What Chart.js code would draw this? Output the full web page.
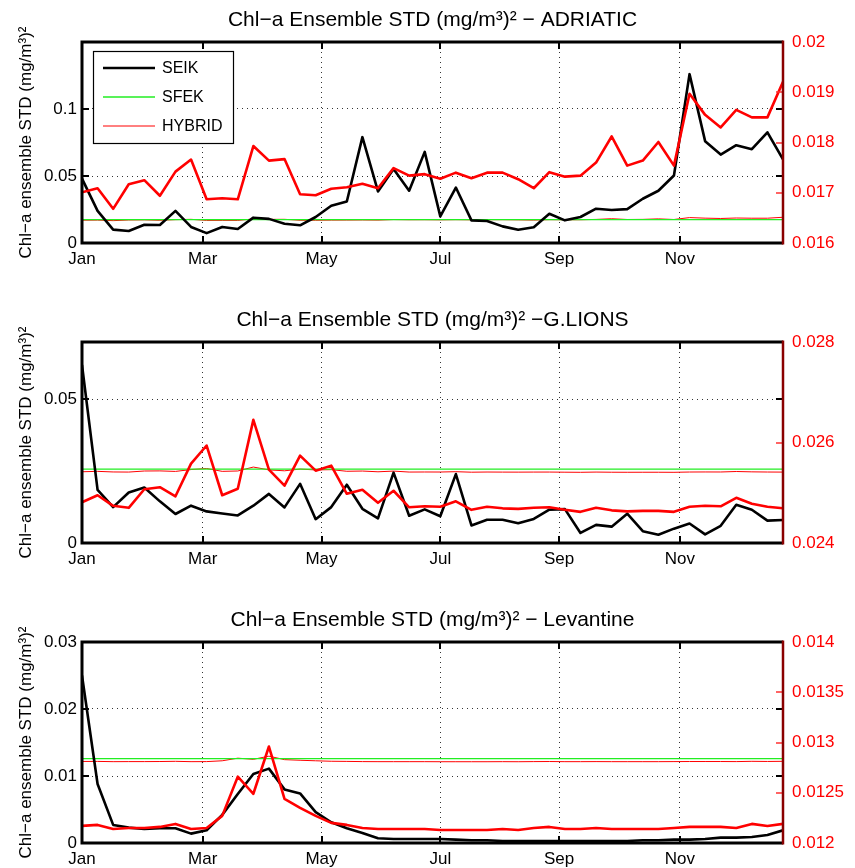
<!DOCTYPE html>
<html><head><meta charset="utf-8">
<script src="https://cdn.jsdelivr.net/npm/chart.js@4.4.1/dist/chart.umd.min.js"></script>
<style>
html,body{margin:0;padding:0;background:#fff;}
#wrap{position:relative;width:855px;height:868px;overflow:hidden;background:#fff;}
.panel{position:absolute;left:0;width:855px;height:268px;}
</style></head><body>
<div id="wrap">
<div class="panel" style="top:0px"><canvas id="c1" width="855" height="268"></canvas></div>
<div class="panel" style="top:300px"><canvas id="c2" width="855" height="268"></canvas></div>
<div class="panel" style="top:600px"><canvas id="c3" width="855" height="268"></canvas></div>
</div>
<script>
// ---------- data ----------
const days = [1,9,17,25,33,41,49,57,65,73,81,89,97,105,113,121,129,137,145,153,161,169,177,185,193,201,209,217,225,233,241,249,257,265,273,281,289,297,305,313,321,329,337,345,353,361];
const monthTickDays = [1, 63, 124, 185, 246, 308];
const monthLabels = ['Jan', 'Mar', 'May', 'Jul', 'Sep', 'Nov'];
const seriesNames = ['SEIK', 'SFEK', 'HYBRID'];
const yAxisLabel = 'Chl−a ensemble STD (mg/m³)²';

const adriaticTitle = 'Chl−a Ensemble STD (mg/m³)² − ADRIATIC';
const adriaticSEIK = [0.048,0.024,0.010,0.009,0.0136,0.0134,0.024,0.012,0.0074,0.012,0.0104,0.0189,0.018,0.0144,0.0132,0.0194,0.0278,0.031,0.079,0.0385,0.0553,0.039,0.068,0.0199,0.0414,0.0169,0.0164,0.0124,0.0099,0.0117,0.0218,0.0169,0.0194,0.0256,0.0246,0.0253,0.033,0.039,0.0504,0.126,0.076,0.066,0.073,0.070,0.0826,0.0625];
const adriaticSFEK = [0.0174,0.0174,0.0174,0.0174,0.0174,0.0174,0.0174,0.0174,0.0174,0.0174,0.0174,0.0174,0.0174,0.0174,0.0174,0.0174,0.0174,0.0174,0.0174,0.0174,0.0174,0.0174,0.0174,0.0174,0.0174,0.0174,0.0174,0.0174,0.0174,0.0174,0.0174,0.0174,0.0174,0.0174,0.0174,0.0174,0.0174,0.0174,0.0174,0.0174,0.0174,0.0174,0.0174,0.0174,0.0174,0.0174];
const adriaticHYBRID = [0.01701,0.01709,0.01668,0.01717,0.01725,0.01694,0.01742,0.01766,0.01687,0.01689,0.01687,0.01793,0.01764,0.01767,0.01697,0.01695,0.01708,0.01711,0.01718,0.01709,0.01749,0.01734,0.01737,0.01728,0.01740,0.01729,0.01740,0.01740,0.01727,0.01709,0.01741,0.01732,0.01734,0.0176,0.01812,0.01754,0.01764,0.01801,0.01754,0.01897,0.01855,0.0183,0.01865,0.0185,0.0185,0.01921];
const adriaticLeftRange = [0, 0.15];
const adriaticLeftTicks = [0, 0.05, 0.1];
const adriaticRightRange = [0.016, 0.02];
const adriaticRightTicks = [0.016, 0.017, 0.018, 0.019, 0.02];

const gLionsTitle = 'Chl−a Ensemble STD (mg/m³)² −G.LIONS';
const gLionsSEIK = [0.062,0.0185,0.0125,0.0176,0.0193,0.0145,0.0101,0.0130,0.0110,0.0103,0.0096,0.0130,0.0171,0.0124,0.0206,0.0083,0.0125,0.0203,0.0119,0.0086,0.0245,0.0095,0.0117,0.0093,0.0240,0.0061,0.0081,0.0081,0.0069,0.0084,0.0116,0.0118,0.0035,0.0063,0.0057,0.0102,0.0041,0.0029,0.0050,0.0068,0.0030,0.0060,0.0133,0.0116,0.0078,0.0080];
const gLionsSFEK = [0.0257,0.0257,0.0257,0.0257,0.0257,0.0257,0.0257,0.0257,0.0257,0.0257,0.0257,0.0257,0.0257,0.0257,0.0257,0.0257,0.0257,0.0257,0.0257,0.0257,0.0257,0.0257,0.0257,0.0257,0.0257,0.0257,0.0257,0.0257,0.0257,0.0257,0.0257,0.0257,0.0257,0.0257,0.0257,0.0257,0.0257,0.0257,0.0257,0.0257,0.0257,0.0257,0.0257,0.0257,0.0257,0.0257];
const gLionsHYBRID = [0.02481,0.02495,0.02474,0.0247,0.02507,0.02511,0.02493,0.02558,0.02594,0.02495,0.02508,0.02645,0.02546,0.02514,0.02574,0.02544,0.02554,0.02498,0.02506,0.0248,0.02504,0.02471,0.02473,0.02472,0.02483,0.02466,0.02472,0.02469,0.02468,0.0247,0.02471,0.02466,0.02462,0.0247,0.02465,0.02463,0.02464,0.02464,0.02462,0.02472,0.02474,0.02473,0.0249,0.02478,0.02472,0.02469];
const gLionsLeftRange = [0, 0.07];
const gLionsLeftTicks = [0, 0.05];
const gLionsRightRange = [0.024, 0.028];
const gLionsRightTicks = [0.024, 0.026, 0.028];

const levantineTitle = 'Chl−a Ensemble STD (mg/m³)² − Levantine';
const levantineSEIK = [0.0250,0.0088,0.0027,0.0023,0.0021,0.0022,0.0022,0.0014,0.0019,0.0042,0.0073,0.0103,0.0111,0.0080,0.0074,0.0046,0.0031,0.0022,0.0015,0.0007,0.0006,0.0006,0.0006,0.0006,0.0005,0.0004,0.0004,0.0003,0.0003,0.0003,0.0003,0.0003,0.0003,0.0003,0.0003,0.0003,0.0004,0.0004,0.0005,0.0005,0.0006,0.0008,0.0008,0.0009,0.0012,0.0019];
const levantineSFEK = [0.01258,0.01258,0.01258,0.01258,0.01258,0.01258,0.01258,0.01258,0.01258,0.01258,0.01258,0.01258,0.01258,0.01258,0.01258,0.01258,0.01258,0.01258,0.01258,0.01258,0.01258,0.01258,0.01258,0.01258,0.01258,0.01258,0.01258,0.01258,0.01258,0.01258,0.01258,0.01258,0.01258,0.01258,0.01258,0.01258,0.01258,0.01258,0.01258,0.01258,0.01258,0.01258,0.01258,0.01258,0.01258,0.01258];
const levantineHYBRID = [0.01217,0.01218,0.01214,0.01215,0.01215,0.01216,0.01219,0.01214,0.01215,0.01227,0.01266,0.01249,0.01296,0.01244,0.01235,0.01227,0.0122,0.01218,0.01215,0.01214,0.01214,0.01214,0.01214,0.01213,0.01213,0.01213,0.01213,0.01214,0.01213,0.01215,0.01216,0.01214,0.01214,0.01215,0.01214,0.01214,0.01214,0.01214,0.01215,0.01216,0.01216,0.01216,0.01215,0.01219,0.01217,0.01219];
const levantineLeftRange = [0, 0.03];
const levantineLeftTicks = [0, 0.01, 0.02, 0.03];
const levantineRightRange = [0.012, 0.014];
const levantineRightTicks = [0.012, 0.0125, 0.013, 0.0135, 0.014];

// ---------- drawing ----------
const FONT = "'Liberation Sans', Arial, Helvetica, sans-serif";
const fmt = v => String(Number(Number(v).toPrecision(6)));
const pts = arr => days.map((d, i) => ({x: d, y: arr[i]}));

const frame = {
  id: 'matlabFrame',
  afterDatasetsDraw(chart) {
    const {ctx, chartArea: a, scales} = chart;
    const tl = 7;
    ctx.save();
    ctx.lineCap = 'butt';
    ctx.strokeStyle = '#000';
    ctx.lineWidth = 2;
    scales.x.ticks.forEach(t => {
      const px = Math.round(scales.x.getPixelForValue(t.value));
      ctx.beginPath();
      ctx.moveTo(px, a.bottom); ctx.lineTo(px, a.bottom - tl);
      ctx.moveTo(px, a.top); ctx.lineTo(px, a.top + tl);
      ctx.stroke();
    });
    scales.y.ticks.forEach(t => {
      const py = Math.round(scales.y.getPixelForValue(t.value));
      ctx.beginPath();
      ctx.moveTo(a.left, py); ctx.lineTo(a.left + tl, py);
      ctx.moveTo(a.right, py); ctx.lineTo(a.right - tl, py);
      ctx.stroke();
    });
    ctx.strokeStyle = '#ff3030';
    ctx.lineWidth = 1.5;
    scales.y2.ticks.forEach(t => {
      const py = Math.round(scales.y2.getPixelForValue(t.value));
      ctx.beginPath();
      ctx.moveTo(a.right, py); ctx.lineTo(a.right - tl, py);
      ctx.stroke();
    });
    ctx.strokeStyle = '#000';
    ctx.lineWidth = 3;
    ctx.beginPath();
    ctx.moveTo(a.right, a.top); ctx.lineTo(a.left, a.top);
    ctx.lineTo(a.left, a.bottom); ctx.lineTo(a.right, a.bottom);
    ctx.stroke();
    ctx.strokeStyle = '#8a0000';
    ctx.lineWidth = 2.5;
    ctx.beginPath();
    ctx.moveTo(a.right, a.top - 1.5); ctx.lineTo(a.right, a.bottom + 1.5);
    ctx.stroke();
    ctx.restore();
  },
  afterDraw(chart, args, opts) {
    if (!opts || !opts.legend) return;
    const {ctx} = chart;
    const bx = 93, by = 51, bw = 140, bh = 92;
    ctx.save();
    ctx.fillStyle = '#fff';
    ctx.fillRect(bx, by, bw, bh);
    ctx.strokeStyle = '#000';
    ctx.lineWidth = 1.2;
    ctx.strokeRect(bx + 0.5, by + 0.5, bw, bh);
    const items = chart.data.datasets.filter(d => d.inLegend);
    ctx.font = '16px ' + FONT;
    ctx.textBaseline = 'middle';
    ctx.textAlign = 'left';
    items.forEach((d, i) => {
      const y = 68 + i * 29;
      ctx.strokeStyle = d.borderColor;
      ctx.lineWidth = d.borderWidth;
      ctx.beginPath();
      ctx.moveTo(103, y); ctx.lineTo(155, y);
      ctx.stroke();
      ctx.fillStyle = '#000';
      ctx.fillText(d.label, 162, y + 1);
    });
    ctx.restore();
  }
};

function makeChart(id, title, seik, sfek, hybrid, lRange, lTicks, rRange, rTicks, showLegend) {
  return new Chart(document.getElementById(id), {
    type: 'line',
    data: {
      datasets: [
        {label: seriesNames[2] + ' ', data: pts(hybrid), yAxisID: 'y2', borderColor: '#ff0000', borderWidth: 2.6, order: 0, inLegend: false},
        {label: seriesNames[0], data: pts(seik), yAxisID: 'y', borderColor: '#000000', borderWidth: 2.6, order: 1, inLegend: true},
        {label: seriesNames[1], data: pts(sfek), yAxisID: 'y', borderColor: '#22ee22', borderWidth: 1.3, order: 2, inLegend: true},
        {label: seriesNames[2], data: pts(hybrid), yAxisID: 'y', borderColor: '#ff0000', borderWidth: 1, order: 3, inLegend: true}
      ]
    },
    options: {
      responsive: false,
      animation: false,
      events: [],
      devicePixelRatio: 1,
      layout: {padding: {left: 10, right: 0, top: 0, bottom: 0}},
      elements: {
        point: {radius: 0},
        line: {tension: 0, fill: false, borderJoinStyle: 'round', borderCapStyle: 'butt'}
      },
      plugins: {
        legend: {display: false},
        tooltip: {enabled: false},
        title: {
          display: true, text: title, color: '#000',
          font: {family: FONT, size: 21, weight: 'normal', lineHeight: 1.2},
          padding: {top: 8, bottom: 8.8}
        },
        matlabFrame: {legend: showLegend}
      },
      scales: {
        x: {
          type: 'linear', position: 'bottom', min: days[0], max: days[days.length - 1],
          afterBuildTicks: s => { s.ticks = monthTickDays.map(v => ({value: v})); },
          afterFit: s => { s.height = 25; },
          ticks: {
            autoSkip: false, maxRotation: 0, minRotation: 0, padding: 6, color: '#000',
            font: {family: FONT, size: 17},
            callback: (v, i) => monthLabels[i]
          },
          grid: {color: '#333', lineWidth: 1, drawTicks: false},
          border: {display: false, dash: [1, 4]}
        },
        y: {
          type: 'linear', position: 'left', min: lRange[0], max: lRange[1],
          afterBuildTicks: s => { s.ticks = lTicks.map(v => ({value: v})); },
          afterFit: s => { s.width = 72; },
          ticks: {padding: 5, color: '#000', font: {family: FONT, size: 17}, callback: v => fmt(v)},
          grid: {color: '#333', lineWidth: 1, drawTicks: false},
          border: {display: false, dash: [1, 4]},
          title: {display: true, text: yAxisLabel, color: '#000', font: {family: FONT, size: 17}, padding: {top: 6, bottom: 0}}
        },
        y2: {
          type: 'linear', position: 'right', min: rRange[0], max: rRange[1],
          afterBuildTicks: s => { s.ticks = rTicks.map(v => ({value: v})); },
          afterFit: s => { s.width = 72; },
          ticks: {padding: 9, color: '#ff0000', font: {family: FONT, size: 17}, callback: v => fmt(v)},
          grid: {drawOnChartArea: false, drawTicks: false},
          border: {display: false}
        }
      }
    },
    plugins: [frame]
  });
}

makeChart('c1', adriaticTitle, adriaticSEIK, adriaticSFEK, adriaticHYBRID, adriaticLeftRange, adriaticLeftTicks, adriaticRightRange, adriaticRightTicks, true);
makeChart('c2', gLionsTitle, gLionsSEIK, gLionsSFEK, gLionsHYBRID, gLionsLeftRange, gLionsLeftTicks, gLionsRightRange, gLionsRightTicks, false);
makeChart('c3', levantineTitle, levantineSEIK, levantineSFEK, levantineHYBRID, levantineLeftRange, levantineLeftTicks, levantineRightRange, levantineRightTicks, false);
</script>
</body></html>
